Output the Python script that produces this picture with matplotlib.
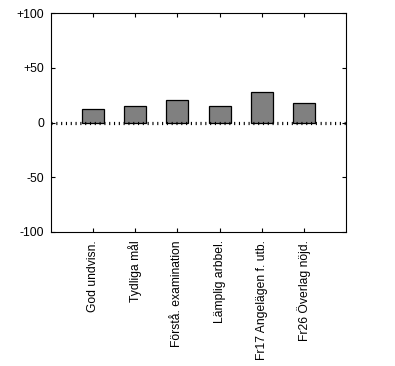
import matplotlib
matplotlib.use("Agg")
import matplotlib.pyplot as plt
import numpy as np

plt.rcParams['font.family'] = ['Liberation Sans', 'DejaVu Sans']
plt.rcParams['lines.scale_dashes'] = False

categories = ["God undvisn.", "Tydliga mål", "Förstå. examination",
              "Lämplig arbbel.", "Fr17 Angelägen f. utb.", "Fr26 Överlag nöjd."]
values = [12, 15, 21, 15, 28, 17.5]
yticks = [-100, -50, 0, 50, 100]
yticklabels = ["-100", "-50", "0", "+50", "+100"]

fig = plt.figure(figsize=(3.95, 3.66), dpi=100)
ax = fig.add_axes([51/395, 1-232/366, 295/395, 219/366])

x = np.arange(len(categories))
ax.bar(x, values, width=0.52, color="#808080", edgecolor="black", linewidth=0.9, zorder=2)
ax.axhline(0, color="black", linewidth=2.3, dashes=(0.8, 2.66),
           dash_capstyle="butt", zorder=3)

ax.set_xlim(-1, len(categories))
ax.set_ylim(-100, 100)
ax.set_xticks(x)
ax.set_xticklabels(categories, rotation=90, fontsize=8.7, va="top", ha="center")
ax.set_yticks(yticks)
ax.set_yticklabels(yticklabels, fontsize=8.7)
ax.tick_params(direction="in", length=3, width=0.8, top=True, right=True,
               pad=5, colors="black")
ax.tick_params(axis="x", pad=6)
for s in ax.spines.values():
    s.set_linewidth(0.8)

fig.savefig("out.png", dpi=100)
